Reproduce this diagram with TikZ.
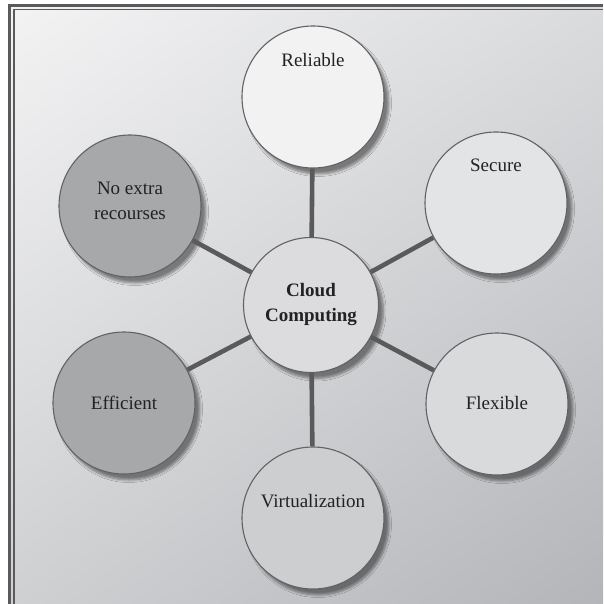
\documentclass[tikz,border=0pt]{standalone}
\usepackage{fontspec}
\setmainfont{Liberation Serif}
\usetikzlibrary{shadows.blur,shadings}
\definecolor{bgTL}{HTML}{F3F3F4}
\definecolor{bgTR}{HTML}{DADBDD}
\definecolor{bgBL}{HTML}{CFD0D2}
\definecolor{bgBR}{HTML}{B4B5B9}
\definecolor{framec}{HTML}{5A5A5C}
\definecolor{edgec}{HTML}{5A5A5A}
\definecolor{rimc}{HTML}{626264}
\definecolor{txtc}{HTML}{222222}
\definecolor{fReliable}{HTML}{F2F2F3}
\definecolor{fSecure}{HTML}{E3E4E6}
\definecolor{fFlexible}{HTML}{D9DADC}
\definecolor{fVirtual}{HTML}{CDCED0}
\definecolor{fDark}{HTML}{A7A8AA}
\definecolor{fCenter}{HTML}{DCDCDE}
\tikzset{
  bubble/.style={circle, draw=rimc, line width=1.1pt, minimum size=142pt, inner sep=0pt,
    blur shadow={shadow xshift=5pt, shadow yshift=-6pt, shadow blur radius=2.5pt, shadow blur steps=6, shadow opacity=45}},
  hub/.style={bubble, minimum size=135pt},
  label/.style={text=txtc, font=\fontsize{19}{25}\selectfont, align=center, inner sep=0pt},
  spoke/.style={draw=edgec, line width=4.6pt}
}
\begin{document}
\begin{tikzpicture}[x=1pt,y=-1pt]
\useasboundingbox (0,0) rectangle (603,604);
\fill[white] (0,0) rectangle (603,604);
\shade[upper left=bgTL, upper right=bgTR, lower left=bgBL, lower right=bgBR] (9,5) rectangle (603,604);
% frame
\draw[framec, line width=2.6pt] (9.5,604) -- (9.5,5.3) -- (603,5.3);
\draw[framec, line width=1.8pt] (14,604) -- (14,9.6) -- (603,9.6);
% circles
\node[hub, fill=fCenter] (c) at (311,305) {};
\node[bubble, fill=fReliable] (rel) at (313,97) {};
\node[bubble, fill=fSecure] (sec) at (496,203) {};
\node[bubble, fill=fFlexible] (flx) at (497,404) {};
\node[bubble, fill=fVirtual] (vir) at (313,518) {};
\node[bubble, fill=fDark] (eff) at (124,403) {};
\node[bubble, fill=fDark] (nox) at (130,206) {};
% spokes
\path[spoke] (c) -- (rel);
\path[spoke] (c) -- (sec);
\path[spoke] (c) -- (flx);
\path[spoke] (c) -- (vir);
\path[spoke] (c) -- (eff);
\path[spoke] (c) -- (nox);
% labels
\node[label, font=\fontsize{19}{25}\selectfont\bfseries] (tc) at (311,305) {Cloud\\Computing};
\node[label] (trel) at (313,60) {Reliable};
\node[label] (tsec) at (496,165) {Secure};
\node[label] (tflx) at (497,403) {Flexible};
\node[label] (tvir) at (313,501) {Virtualization};
\node[label] (teff) at (124,403) {Efficient};
\node[label] (tnox) at (130,201) {No extra\\recourses};
\end{tikzpicture}
\end{document}
